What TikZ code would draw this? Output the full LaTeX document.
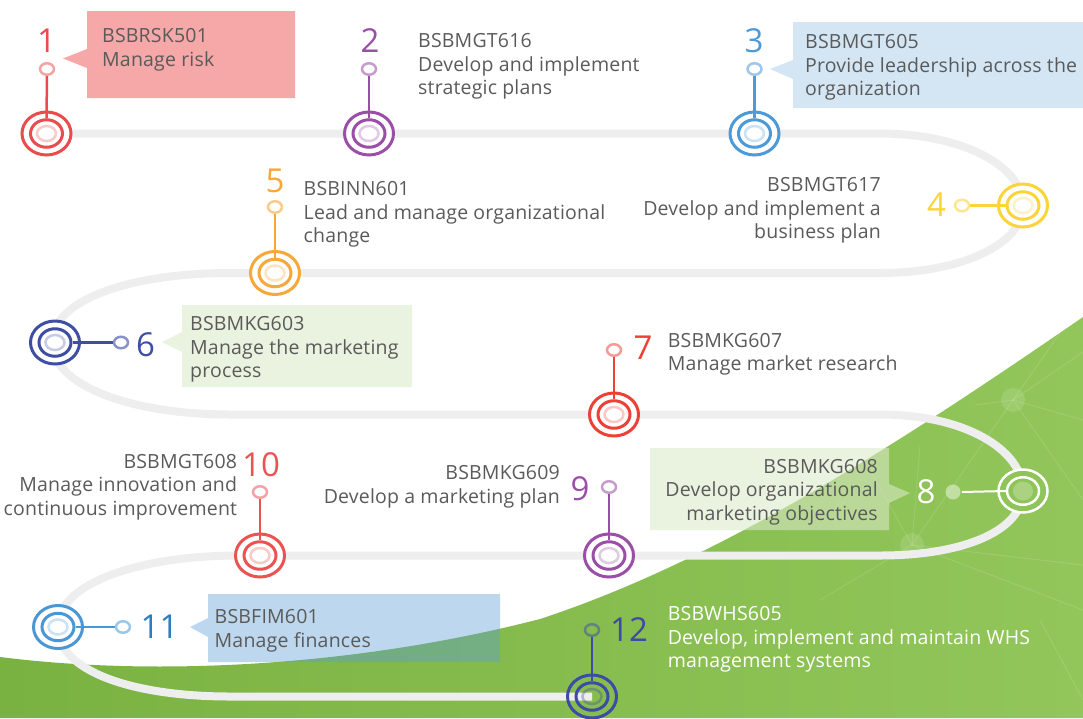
\documentclass[tikz,border=0pt]{standalone}
\usepackage{fontspec}
\setmainfont{Open Sans}
\newfontfamily\descfont[LetterSpace=1.0]{Open Sans}
\usetikzlibrary{shapes.geometric}
\pgfdeclarelayer{bg}
\pgfdeclarelayer{trk}
\pgfsetlayers{bg,trk,main}
\definecolor{txtgray}{HTML}{5A5A5A}
\definecolor{trackgray}{HTML}{EEEEEE}
\definecolor{cRed}{HTML}{EA4B4D}\definecolor{cRedL}{HTML}{F3A3A3}\definecolor{cRedP}{HTML}{F9CACA}
\definecolor{cPur}{HTML}{9B4EA7}\definecolor{cPurL}{HTML}{C59CCC}\definecolor{cPurP}{HTML}{E0C9E4}
\definecolor{cBlu}{HTML}{4C9AD8}\definecolor{cBluL}{HTML}{9DC7EA}\definecolor{cBluP}{HTML}{CBE2F4}
\definecolor{cYel}{HTML}{FBD437}\definecolor{cYelL}{HTML}{FDE68F}\definecolor{cYelP}{HTML}{FEF1C6}
\definecolor{cOra}{HTML}{F6A83A}\definecolor{cOraL}{HTML}{F9CB8A}\definecolor{cOraP}{HTML}{FCE3C2}
\definecolor{cNav}{HTML}{3E4EA2}\definecolor{cNavL}{HTML}{8892C8}\definecolor{cNavP}{HTML}{C7CCE5}
\definecolor{cRedB}{HTML}{EB4137}\definecolor{cRedBL}{HTML}{F39B96}\definecolor{cRedBP}{HTML}{F8C8C5}
\definecolor{cRedC}{HTML}{EB5352}
\definecolor{cBluB}{HTML}{4A97D5}\definecolor{cBluBN}{HTML}{2C7DC2}
\definecolor{cInd}{HTML}{3D4AA6}
\definecolor{boxPink}{HTML}{F6A7A7}
\definecolor{boxBlue}{HTML}{D4E6F4}
\definecolor{boxGreen}{HTML}{EAF3E0}
\definecolor{boxGreenT}{HTML}{DBEACA}
\definecolor{boxBlueT}{HTML}{5A9DD4}
\definecolor{gLeft}{HTML}{7AB241}
\definecolor{gRight}{HTML}{92C65B}
\definecolor{gEight}{HTML}{8FC458}
\tikzset{
  outerring/.style={ellipse, draw, line width=3pt, minimum width=49pt, minimum height=43pt, inner sep=0pt, fill=white},
  innerring/.style={ellipse, draw, line width=3pt, minimum width=32pt, minimum height=27.5pt, inner sep=0pt},
  corering/.style={ellipse, draw, line width=2.5pt, minimum width=19pt, minimum height=15pt, inner sep=0pt},
  knob/.style={ellipse, draw, line width=2.5pt, minimum width=14pt, minimum height=11.5pt, inner sep=0pt, fill=white},
  stem/.style={line width=2.5pt},
  numlabel/.style={font=\fontsize{33}{33}\selectfont, inner sep=0pt},
  desc/.style={font=\descfont\fontsize{19.5}{23.7}\selectfont, text=txtgray, inner sep=0pt, align=left, anchor=north west},
  descr/.style={desc, align=right, anchor=north east},
  track/.style={draw=trackgray, line width=8pt},
  net/.style={white, opacity=0.12, line width=1pt},
}
\newcommand\mkstone[6]{%
  \node[outerring, draw=#4] (o#1) at (#2,#3) {};
  \node[innerring, draw=#4] (i#1) at (#2,#3) {};
  \node[corering, draw=#6] (c#1) at (#2,#3) {};
}
\begin{document}
\begin{tikzpicture}[x=1pt,y=-1pt]
\useasboundingbox (0,0) rectangle (1083,718);
% green background
\begin{pgfonlayer}{bg}
\shade[left color=gLeft, right color=gRight] (0,657) .. controls (150,676) and (350,668) .. (540,619) .. controls (720,560) and (900,443) .. (1083,317) -- (1083,718) -- (0,718) -- cycle;
\begin{scope}[net]
  \fill (1013,400) circle (12);
  \fill (912,545) circle (12);
  \draw (1013,400) -- (912,545);
  \draw (1013,400) -- (1083,352);
  \draw (1013,400) -- (1083,420);
  \draw (1013,400) -- (1083,500);
  \draw (1013,400) -- (975,405);
  \draw (1013,400) -- (1060,333);
  \draw (912,545) -- (1083,565);
  \draw (912,545) -- (1083,610);
  \draw (912,545) -- (920,445);
  \draw (912,545) -- (820,600);
  \draw (912,545) -- (870,470);
  \draw (1040,620) -- (1083,700);
\end{scope}
\end{pgfonlayer}
% boxes
\fill[boxPink] (87,11) -- (295,11) -- (295,98) -- (87,98) -- (87,68) -- (63,58.5) -- (87,49) -- cycle;
\fill[boxBlue] (793,22) -- (1083,22) -- (1083,108) -- (793,108) -- (793,79) -- (770,69) -- (793,60) -- cycle;
\fill[boxGreen] (182,305) -- (412,305) -- (412,387) -- (182,387) -- (182,352) -- (162,342) -- (182,332) -- cycle;
\fill[boxGreenT, opacity=0.58] (650,448) -- (889,448) -- (889,484) -- (910,493) -- (889,503) -- (889,530) -- (650,530) -- cycle;
\fill[boxBlueT, opacity=0.4] (208,594) -- (500,594) -- (500,662) -- (208,662) -- (208,637) -- (190,627) -- (208,618) -- cycle;
% milestones
\mkstone{1}{46.5}{133.5}{cRed}{cRedL}{cRedP}
\mkstone{2}{369}{133.5}{cPur}{cPurL}{cPurP}
\mkstone{3}{754.5}{133.5}{cBlu}{cBluL}{cBluP}
\mkstone{4}{1023}{205.5}{cYel}{cYelL}{cYelP}
\mkstone{5}{275}{273}{cOra}{cOraL}{cOraP}
\mkstone{6}{55}{342.5}{cNav}{cNavL}{cNavP}
\mkstone{7}{614}{414.5}{cRedB}{cRedBL}{cRedBP}
\node[outerring, draw=white, fill=gEight, line width=2.5pt] (o8) at (1023,491) {};
\node[innerring, draw=white, line width=2.5pt] (i8) at (1023,491) {};
\node[corering, draw=none, fill=white, fill opacity=0.25, minimum width=20pt, minimum height=19pt] (c8) at (1023,491) {};
\mkstone{9}{609}{555.5}{cPur}{cPurL}{cPurP}
\mkstone{10}{260}{555.5}{cRedC}{cRedL}{cRedP}
\mkstone{11}{58}{627}{cBluB}{cBluL}{cBluP}
\node[outerring, draw=cInd, fill=none] (o12) at (592,696.5) {};
\node[innerring, draw=cInd] (i12) at (592,696.5) {};
\node[corering, draw=cInd, draw opacity=0.35] (c12) at (592,696.5) {};
% knobs and stems
\node[knob, draw=cRedL] (k1) at (47,69) {};
\draw[stem, cRed] (k1.south) -- (i1.north);
\node[knob, draw=cPurL] (k2) at (369,69) {};
\draw[stem, cPur] (k2.south) -- (i2.north);
\node[knob, draw=cBluL] (k3) at (754.5,69) {};
\draw[stem, cBlu] (k3.south) -- (i3.north);
\node[knob, draw=cYelL] (k4) at (962,205.5) {};
\draw[stem, cYel] (k4.east) -- (i4.west);
\node[knob, draw=cOraL] (k5) at (275,207) {};
\draw[stem, cOra] (k5.south) -- (i5.north);
\node[knob, draw=cNavL] (k6) at (121,342.5) {};
\draw[stem, cNav] (i6.east) -- (k6.west);
\node[knob, draw=cRedBL] (k7) at (614,350) {};
\draw[stem, cRedB] (k7.south) -- (i7.north);
\node[knob, draw=none, fill=white, fill opacity=0.45, minimum width=15pt, minimum height=15pt] (k8) at (953,492) {};
\draw[stem, white, line width=2pt] (k8.east) -- (i8.west);
\node[knob, draw=cPurL] (k9) at (609,487) {};
\draw[stem, cPur] (k9.south) -- (i9.north);
\node[knob, draw=cRedL] (k10) at (260,492) {};
\draw[stem, cRedC] (k10.south) -- (i10.north);
\node[knob, draw=cBluL] (k11) at (123,627) {};
\draw[stem, cBluB] (i11.east) -- (k11.west);
\node[knob, draw=cInd, draw opacity=0.5, fill=none] (k12) at (592,630) {};
\draw[stem, cInd] (k12.south) -- (i12.north);
% track
\begin{pgfonlayer}{trk}
\draw[track] (o1.center) -- (880,133.5) .. controls (960,133.5) and (1023,165) .. (o4.center) .. controls (1023,245) and (960,273) .. (880,273) -- (230,273) .. controls (130,273) and (52,300) .. (52,342.5) .. controls (52,385) and (130,414.5) .. (230,414.5) -- (880,414.5) .. controls (965,414.5) and (1023,450) .. (o8.center) .. controls (1023,530) and (965,555.5) .. (880,555.5) -- (240,555.5) .. controls (135,555.5) and (57,585) .. (o11.center) .. controls (57,670) and (130,696.5) .. (230,696.5) -- (o12.center);
\end{pgfonlayer}
% numbers
\node[numlabel, text=cRed] (n1) at (46.5,41) {1};
\node[numlabel, text=cPur] (n2) at (370,41) {2};
\node[numlabel, text=cBlu] (n3) at (754,41) {3};
\node[numlabel, text=cYel] (n4) at (936.5,205) {4};
\node[numlabel, text=cOra] (n5) at (275,181) {5};
\node[numlabel, text=cNav] (n6) at (145.5,345) {6};
\node[numlabel, text=cRedB] (n7) at (643,348) {7};
\node[numlabel, text=white] (n8) at (926,492) {8};
\node[numlabel, text=cPur] (n9) at (580,489) {9};
\node[numlabel, text=cRedC] (n10) at (261,465) {10};
\node[numlabel, text=cBluBN] (n11) at (159.5,627) {11};
\node[numlabel, text=cInd] (n12) at (629,630) {12};
% descriptions
\node[desc] (t1) at (102,28.3) {BSBRSK501\\Manage risk};
\node[desc] (t2) at (418,33) {BSBMGT616\\Develop and implement\\strategic plans};
\node[desc] (t3) at (805,34) {BSBMGT605\\Provide leadership across the\\organization};
\node[descr] (t4) at (881,177) {BSBMGT617\\Develop and implement a\\business plan};
\node[desc] (t5) at (303.5,181) {BSBINN601\\Lead and manage organizational\\change};
\node[desc] (t6) at (190,316) {BSBMKG603\\Manage the marketing\\process};
\node[desc] (t7) at (667.6,332.7) {BSBMKG607\\Manage market research};
\node[descr] (t8) at (878,458.7) {BSBMKG608\\Develop organizational\\marketing objectives};
\node[descr] (t9) at (560,465) {BSBMKG609\\Develop a marketing plan};
\node[descr] (t10) at (237.3,453.7) {BSBMGT608\\Manage innovation and\\continuous improvement};
\node[desc] (t11) at (214.5,609.3) {BSBFIM601\\Manage finances};
\node[desc, text=white] (t12) at (667.6,606) {BSBWHS605\\Develop, implement and maintain WHS\\management systems};
\end{tikzpicture}
\end{document}
